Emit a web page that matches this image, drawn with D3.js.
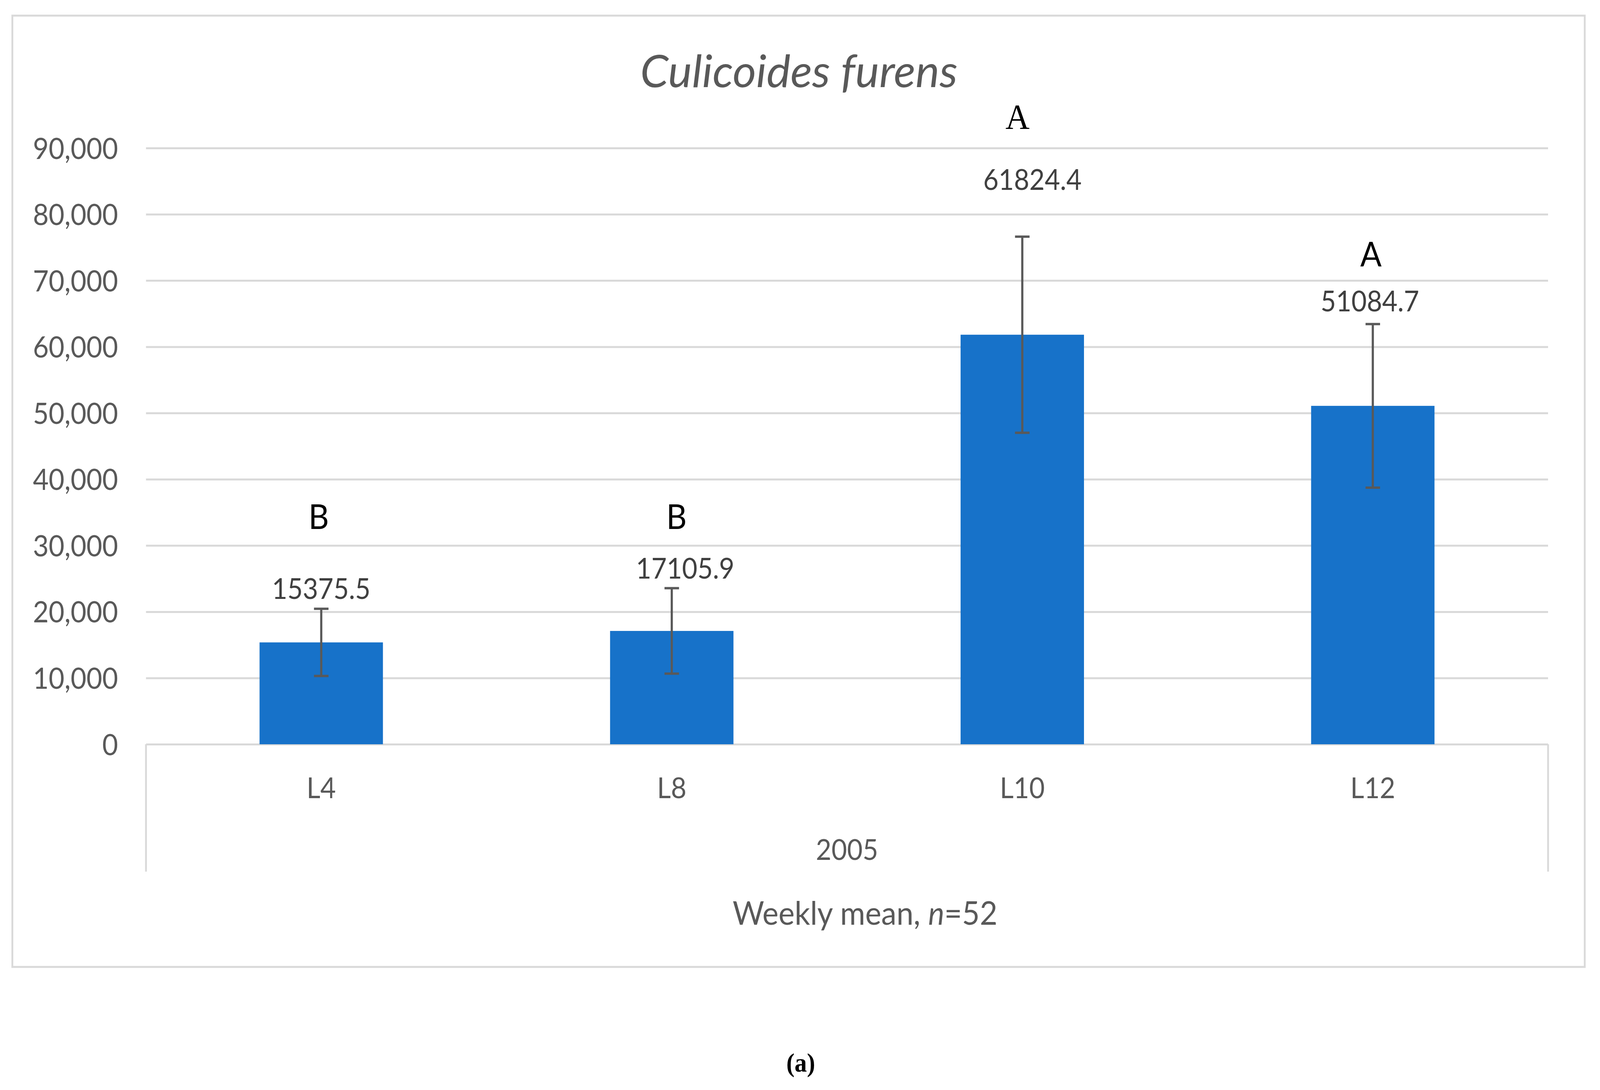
<!DOCTYPE html>
<html>
<head>
<meta charset="utf-8">
<script src="https://cdn.jsdelivr.net/npm/d3@7"></script>
<style>
  html, body { margin: 0; padding: 0; width: 100%; height: 100%; overflow: hidden; background: #fff; }
  svg { display: block; width: 100vw; height: 100vh; }
</style>
</head>
<body>
<svg id="chart" viewBox="0 0 4406 2790" preserveAspectRatio="none"></svg>
<script>
// values
const sites = ["L4", "L8", "L10", "L12"];
const weeklyMean = [15375.5, 17105.9, 61824.4, 51084.7];
const stdError = [5070, 6450, 14800, 12350];
const groupLetter = ["B", "B", "A", "A"];
const letterLevel = [32500, 32500, 92900, 72100];
const yTicks = [0, 10000, 20000, 30000, 40000, 50000, 60000, 70000, 80000, 90000];

// hand placed bits of the original (pixels)
const labelNudge = [[0, 0], [37, 0], [28, -95], [-8, -7]];
const letterNudge = [[-7, 0], [13, 0], [-13, 0], [-5, 0]];
const letterSerif = [false, false, true, false];

const svg = d3.select("#chart");
const plotL = 402, plotR = 4263, plotT = 379, plotB = 1905;
const grey = "#d9d9d9";
const sans = "Lato, 'Open Sans', sans-serif";

const x = d3.scaleBand().domain(sites).range([plotL, plotR]).paddingInner(0.648).paddingOuter(0.324);
const y = d3.scaleLinear().domain([0, 90000]).range([plotB, plotT]);

// chart frame
svg.append("rect")
  .attr("x", 34).attr("y", 40).attr("width", 4330).attr("height", 2435)
  .attr("fill", "#fff").attr("stroke", grey).attr("stroke-width", 5);

// y axis + gridlines
const yAxis = svg.append("g")
  .attr("transform", `translate(${plotL},0)`)
  .call(d3.axisLeft(y).tickValues(yTicks).tickFormat(d3.format(",")).tickSize(-(plotR - plotL)).tickPadding(77));
yAxis.select(".domain").remove();
yAxis.selectAll("line").attr("stroke", grey).attr("stroke-width", 5);
yAxis.selectAll("text")
  .attr("font-family", sans).attr("font-size", 75).attr("fill", "#595959")
  .attr("dy", "0.36em");

// category axis box (multi level)
svg.append("g").selectAll("line").data([plotL, plotR]).join("line")
  .attr("x1", d => d).attr("x2", d => d)
  .attr("y1", plotB).attr("y2", 2231)
  .attr("stroke", grey).attr("stroke-width", 5);

const xAxis = svg.append("g")
  .attr("transform", `translate(0,${plotB})`)
  .call(d3.axisBottom(x).tickSize(0));
xAxis.select(".domain").remove();
xAxis.selectAll("text")
  .attr("font-family", sans).attr("font-size", 74).attr("fill", "#595959")
  .attr("y", 138).attr("dy", null);

svg.append("text")
  .attr("x", (plotL + plotR) / 2).attr("y", 2201)
  .attr("text-anchor", "middle")
  .attr("font-family", sans).attr("font-size", 74).attr("fill", "#595959")
  .text("2005");

// bars
svg.append("g").selectAll("rect").data(weeklyMean).join("rect")
  .attr("x", (d, i) => x(sites[i]))
  .attr("y", d => y(d))
  .attr("width", x.bandwidth())
  .attr("height", d => y(0) - y(d))
  .attr("fill", "#1772c9");

// error bars
const cx = i => x(sites[i]) + x.bandwidth() / 2;
const err = svg.append("g").attr("stroke", "#595959").attr("stroke-width", 6);
weeklyMean.forEach((m, i) => {
  const hi = y(m + stdError[i]), lo = y(m - stdError[i]);
  err.append("line").attr("x1", cx(i)).attr("x2", cx(i)).attr("y1", hi).attr("y2", lo);
  [hi, lo].forEach(v => {
    err.append("line").attr("x1", cx(i) - 20).attr("x2", cx(i) + 20).attr("y1", v).attr("y2", v);
  });
});

// value labels
svg.append("g").selectAll("text").data(weeklyMean).join("text")
  .attr("x", (d, i) => cx(i) + labelNudge[i][0])
  .attr("y", (d, i) => y(d + stdError[i]) - 25 + labelNudge[i][1])
  .attr("text-anchor", "middle")
  .attr("font-family", sans).attr("font-size", 73).attr("fill", "#404040")
  .text(d => d.toFixed(1));

// significance letters
svg.append("g").selectAll("text").data(groupLetter).join("text")
  .attr("x", (d, i) => cx(i) + letterNudge[i][0])
  .attr("y", (d, i) => y(letterLevel[i]) + letterNudge[i][1])
  .attr("text-anchor", "middle")
  .attr("font-family", (d, i) => letterSerif[i] ? "'Liberation Serif', 'DejaVu Serif', serif" : sans)
  .attr("font-size", (d, i) => letterSerif[i] ? 92 : 87)
  .attr("fill", "#000")
  .text(d => d);

// title
svg.append("text")
  .attr("x", 2200).attr("y", 223)
  .attr("text-anchor", "middle")
  .attr("font-family", sans).attr("font-style", "italic").attr("font-size", 114).attr("fill", "#595959")
  .attr("textLength", 874).attr("lengthAdjust", "spacingAndGlyphs")
  .text("Culicoides furens");

// axis title
const axTitle = svg.append("text")
  .attr("x", 2382).attr("y", 2367)
  .attr("text-anchor", "middle")
  .attr("font-family", sans).attr("font-size", 84).attr("fill", "#595959");
axTitle.append("tspan").text("Weekly mean, ");
axTitle.append("tspan").attr("font-style", "italic").text("n");
axTitle.append("tspan").text("=52");

// panel caption
svg.append("text")
  .attr("x", 2205).attr("y", 2743)
  .attr("text-anchor", "middle")
  .attr("font-family", "'Liberation Serif', 'Times New Roman', serif")
  .attr("font-weight", "bold").attr("font-size", 68).attr("fill", "#000")
  .text("(a)");
</script>
</body>
</html>
